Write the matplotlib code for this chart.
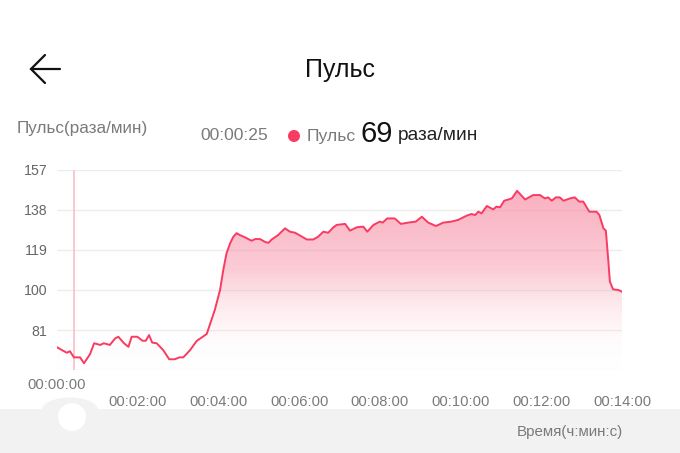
import matplotlib.pyplot as plt
import numpy as np
from matplotlib.colors import LinearSegmentedColormap
from matplotlib.patches import Circle, Ellipse, Rectangle

plt.rcParams['font.family'] = ['Liberation Sans', 'DejaVu Sans']

# pulse samples: time in minutes, beats per minute
minutes = [0.00, 0.24, 0.32, 0.42, 0.57, 0.67, 0.82, 0.92, 1.07, 1.16, 1.31, 1.44,
           1.52, 1.66, 1.77, 1.85, 1.99, 2.12, 2.20, 2.28, 2.36, 2.47, 2.63, 2.78,
           2.92, 3.03, 3.13, 3.30, 3.46, 3.71, 3.91, 4.04, 4.12, 4.20, 4.29, 4.37,
           4.45, 4.53, 4.66, 4.82, 4.91, 5.03, 5.15, 5.24, 5.32, 5.48, 5.65, 5.77,
           5.90, 6.19, 6.35, 6.47, 6.60,
           6.72, 6.85, 6.93, 7.14, 7.26, 7.43, 7.59, 7.69, 7.84, 8.00, 8.07, 8.18,
           8.37, 8.52, 8.70, 8.89, 9.04, 9.20, 9.39, 9.57, 9.78, 9.94, 10.15, 10.27,
           10.36, 10.44, 10.52, 10.65, 10.81, 10.89, 10.98, 11.08, 11.27, 11.40,
           11.60, 11.80, 11.97, 12.09, 12.17, 12.26, 12.36, 12.46, 12.55, 12.71,
           12.83, 12.94, 13.04, 13.19, 13.37, 13.44, 13.54, 13.60, 13.66, 13.70,
           13.78, 13.91, 14.00]
bpm = [72.8, 70.2, 70.9, 68.0, 68.0, 65.2, 69.6, 74.7, 73.9, 74.7, 73.9, 77.0,
       77.8, 74.7, 73.0, 77.8, 77.8, 75.9, 75.9, 78.6, 75.0, 74.7, 71.5, 67.1,
       67.1, 68.0, 68.0, 71.5, 75.8, 79.1, 90.5, 100.0, 109.5, 117.4, 122.2, 125.3,
       127.0, 126.1, 125.0, 123.4, 124.2, 124.2, 122.9, 122.4, 124.0, 126.1, 129.3, 127.7,
       127.2, 124.0, 124.0, 125.3, 127.7,
       127.2, 129.8, 130.9, 131.4, 128.2, 129.8, 130.1, 127.7, 130.9, 132.5, 132.0, 134.0,
       134.0, 131.4, 132.0, 132.5, 134.8, 132.0, 130.4, 132.0, 132.5, 133.3, 135.3, 136.1,
       135.6, 137.2, 136.4, 139.9, 138.3, 139.6, 139.3, 142.4, 143.5, 147.1,
       143.0, 145.1, 145.1, 143.5, 144.0, 142.4, 144.0, 144.0, 142.4, 143.5,
       144.0, 142.0, 142.0, 137.2, 137.2, 135.6, 129.3, 128.2, 114.2, 104.0,
       100.3, 100.0, 99.2]

y_ticks = [62, 81, 100, 119, 138, 157]
x_ticks = [0, 2, 4, 6, 8, 10, 12, 14]
x_labels = ['00:00:00', '00:02:00', '00:04:00', '00:06:00',
            '00:08:00', '00:10:00', '00:12:00', '00:14:00']
cursor_minute = 25 / 60

line_color = '#f93b62'
gray = '#7a7a7a'
band = '#f2f2f2'

fig = plt.figure(figsize=(6.8, 4.53), dpi=100)
fig.patch.set_facecolor('white')

# decorations layer in pixel coordinates
deco = fig.add_axes([0, 0, 1, 1])
deco.set_xlim(0, 680)
deco.set_ylim(453, 0)
deco.axis('off')
deco.add_patch(Rectangle((0, 409), 680, 44, color=band, lw=0))
deco.add_patch(Ellipse((70, 410), 56, 25, color=band, lw=0))
deco.add_patch(Circle((72, 417), 14, color='white', lw=0))
deco.plot([31, 60], [69, 69], color='#111111', lw=1.6, solid_capstyle='round')
deco.plot([45, 31, 45], [55, 69, 83], color='#111111', lw=1.6,
          solid_capstyle='round', solid_joinstyle='miter')

fig.text(340 / 680, 1 - 70 / 453, 'Пульс', ha='center', va='center',
         fontsize=18, color='#111111')
fig.text(17 / 680, 1 - 128 / 453, 'Пульс(раза/мин)', ha='left', va='center',
         fontsize=12.3, color=gray)
fig.text(200 / 680, 1 - 136 / 453, '00:00:25', ha='left', va='center',
         fontsize=12.6, color=gray)
deco.add_patch(Circle((294, 136), 6, color=line_color, lw=0))
fig.text(307 / 680, 1 - 136 / 453, 'Пульс', ha='left', va='center',
         fontsize=12.6, color=gray)
fig.text(360 / 680, 1 - 134 / 453, '69', ha='left', va='center',
         fontsize=21, color='#111111')
fig.text(398 / 680, 1 - 136 / 453, 'раза/мин', ha='left', va='center',
         fontsize=13.8, color='#222222')
fig.text(623 / 680, 1 - 432 / 453, 'Время(ч:мин:с)', ha='right', va='center',
         fontsize=10.9, color=gray)

# chart
ax = fig.add_axes([57 / 680, 1 - 370 / 453, 565 / 680, 200 / 453])
ax.set_facecolor('none')
ax.set_xlim(0, 14)
ax.set_ylim(62, 157)
for s in ax.spines.values():
    s.set_visible(False)
ax.set_yticks(y_ticks)
ax.set_yticklabels([''] + [str(v) for v in y_ticks[1:]])
ax.tick_params(axis='y', length=0, pad=7, labelsize=10.2, labelcolor='#666666')
ax.set_xticks([])
ax.grid(axis='y', color='#ececec', lw=1)
ax.set_axisbelow(True)

for t, lab in zip(x_ticks, x_labels):
    yy = -0.075 if t == 0 else -0.16
    ax.text(t, yy, lab, transform=ax.get_xaxis_transform(), ha='center',
            va='center', fontsize=10.6, color=gray, clip_on=False)

cmap = LinearSegmentedColormap.from_list(
    'pulse', [(1, 1, 1, 0.0), (0.97, 0.55, 0.64, 0.45), (0.97, 0.55, 0.64, 0.75)])
grad = np.linspace(0, 1, 256).reshape(-1, 1)
img = ax.imshow(grad, cmap=cmap, aspect='auto', origin='lower',
                extent=[0, 14, 62, 157], zorder=2)
poly = ax.fill_between(minutes, bpm, 62, color='none', lw=0)
img.set_clip_path(poly.get_paths()[0], transform=ax.transData)

ax.axvline(cursor_minute, color='#fbc2cd', lw=1.3, zorder=3)
ax.plot(minutes, bpm, color=line_color, lw=1.4, zorder=4)

fig.savefig('out.png', dpi=100, facecolor='white')
